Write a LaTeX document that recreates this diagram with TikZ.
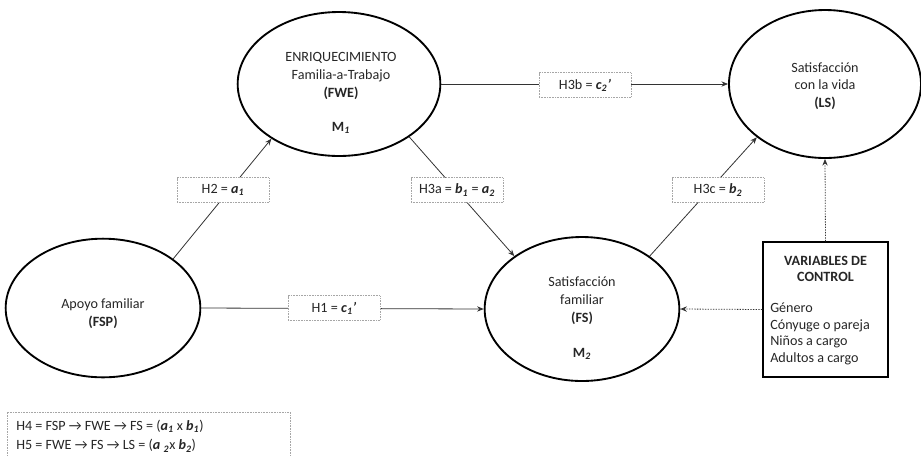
\documentclass[tikz,border=0pt]{standalone}
\usepackage{fontspec}
\setmainfont{Carlito}
\usetikzlibrary{shapes.geometric,arrows.meta}

% bold italic symbol with bold italic subscript
\newcommand{\bisub}[2]{\textbf{\textit{#1}\textsubscript{\textit{#2}}}}

\tikzset{
  ell/.style={ellipse, draw=black, line width=1.4pt, inner sep=0pt},
  txt/.style={align=center, text=black!85, inner sep=0pt,
              font=\fontsize{10.6}{13.6}\selectfont},
  conn/.style={draw=black!80, line width=0.6pt, -{Stealth[length=5pt,width=4pt]}},
  ctrl/.style={conn, dash pattern=on 1pt off 1pt},
  lbl/.style={draw=gray!70, dash pattern=on 0.6pt off 0.6pt, fill=white,
              minimum width=69pt, minimum height=18.5pt, inner sep=0pt,
              text=black!85, font=\fontsize{10.6}{12}\selectfont},
}

\begin{document}
\begin{tikzpicture}[x=0.75pt, y=-0.75pt]
  \useasboundingbox (0,0) rectangle (921,455);
  \clip (0,0) rectangle (921,455);

  % latent constructs
  \node[ell, minimum width=152pt, minimum height=108pt] (fwe) at (339,84) {};
  \node[ell, minimum width=144pt, minimum height=111pt] (ls)  at (825,84) {};
  \node[ell, minimum width=146pt, minimum height=104pt] (fsp) at (103,308) {};
  \node[ell, minimum width=146pt, minimum height=108pt] (fs)  at (582,309) {};

  \node[txt] (fwe-t) at (341,76) {ENRIQUECIMIENTO\\Familia-a-Trabajo\\\textbf{(FWE)}};
  \node[txt] (fwe-m) at (341,128) {\textbf{M}\bisub{}{1}};
  \node[txt, font=\fontsize{10.6}{13.1}\selectfont] (ls-t) at (825,86) {Satisfacción\\con la vida\\\textbf{(LS)}};
  \node[txt] (fsp-t) at (103,314) {Apoyo familiar\\\textbf{(FSP)}};
  \node[txt] (fs-t) at (582,301) {Satisfacción\\familiar\\\textbf{(FS)}};
  \node[txt] (fs-m) at (582,354) {\textbf{M}\bisub{}{2}};

  % control variables
  \node[draw=black, line width=1.1pt, minimum width=93.75pt, minimum height=101.25pt,
        inner sep=0pt] (var) at (825.5,309.5) {};
  \node[txt, font=\fontsize{10.6}{12.2}\selectfont] (var-t) at (825.5,269)
        {\textbf{VARIABLES DE}\\\textbf{CONTROL}};
  \node[txt, align=left, anchor=west, font=\fontsize{10.6}{12.5}\selectfont] (var-l) at (770,334)
        {Género\\Cónyuge o pareja\\Niños a cargo\\Adultos a cargo};

  % hypothesised paths
  \draw[conn] (fsp.35) -- (fwe.219);
  \draw[conn] (fwe.323) -- (fs.142);
  \draw[conn] (fs.38) -- (ls.218);
  \draw[conn] (fwe.east) -- (ls.west);
  \draw[conn] (fsp.east) -- (fs.west);
  \draw[ctrl] (var.north) -- (ls.south);
  \draw[ctrl] (var.west) -- (fs.east);

  % path labels
  \node[lbl] (h2)  at (223,190) {H2 = \bisub{a}{1}};
  \node[lbl] (h3a) at (457,190) {H3a = \bisub{b}{1} = \bisub{a}{2}};
  \node[lbl] (h3c) at (718,190) {H3c = \bisub{b}{2}};
  \node[lbl] (h3b) at (585,85)  {H3b = \bisub{c}{2}\textbf{\textit{’}}};
  \node[lbl] (h1)  at (334,308) {H1 = \bisub{c}{1}\textbf{\textit{’}}};

  % indirect effects
  \draw[draw=gray!70, dash pattern=on 0.6pt off 0.6pt] (7,470) -- (7,412) coordinate (bx-a)
        -- (290,412) coordinate (bx-b) -- (290,470);
  \node[txt, align=left, anchor=north west, font=\fontsize{10.6}{14.5}\selectfont] (ind) at (16,420)
        {H4 = FSP → FWE → FS = (\bisub{a}{1} x \bisub{b}{1})\\
         H5 = FWE → FS → LS = (\textbf{\textit{a}} \textsubscript{\textbf{\textit{2}}}x \bisub{b}{2})};
\end{tikzpicture}
\end{document}
